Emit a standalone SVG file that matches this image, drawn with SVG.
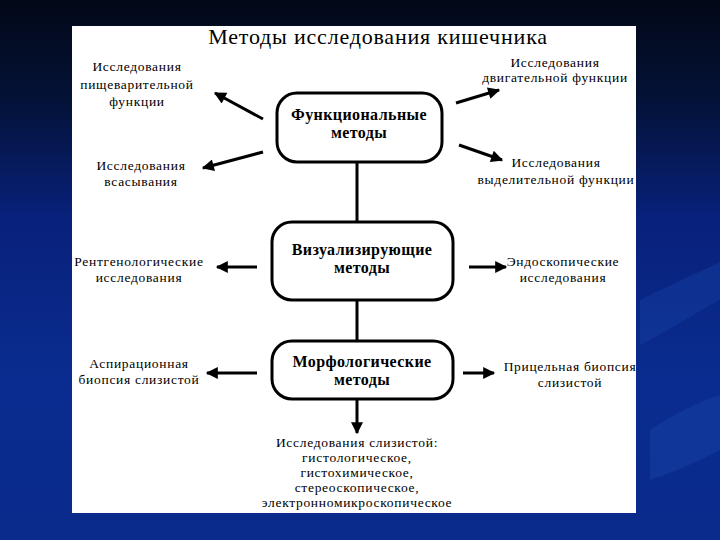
<svg xmlns="http://www.w3.org/2000/svg" width="720" height="540" viewBox="0 0 720 540">
<defs>
<linearGradient id="bg" x1="0" y1="0" x2="0" y2="1">
<stop offset="0" stop-color="#020817"/>
<stop offset="0.18" stop-color="#041236"/>
<stop offset="0.4" stop-color="#08217a"/>
<stop offset="0.7" stop-color="#0a2c90"/>
<stop offset="1" stop-color="#0a2a8c"/>
</linearGradient>
<marker id="ah" viewBox="0 0 10 10" refX="9" refY="5" markerWidth="5" markerHeight="4" markerUnits="strokeWidth" orient="auto">
<path d="M0,0 L10,5 L0,10 z" fill="#000"/>
</marker>
<style>
.node rect{fill:#fff;stroke:#000;stroke-width:3}
.nt{font-family:"Liberation Serif","DejaVu Serif",serif;font-weight:bold;font-size:16px;letter-spacing:0.4px;text-anchor:middle;fill:#000}
.lb{font-family:"Liberation Serif","DejaVu Serif",serif;font-size:13.5px;letter-spacing:0.7px;text-anchor:middle;fill:#000}
.title{font-family:"Liberation Serif","DejaVu Serif",serif;font-size:22px;letter-spacing:0.8px;text-anchor:middle;fill:#000}
.c line{stroke:#000;stroke-width:3;fill:none}
.c line.a{marker-end:url(#ah)}
</style>
</defs>
<rect width="720" height="540" fill="url(#bg)"/>
<path d="M640,300 C680,280 705,270 720,262 L720,300 C700,310 670,330 640,345 z" fill="#1a44a8" opacity="0.35"/>
<path d="M650,430 C680,410 705,400 720,395 L720,450 C700,460 680,470 650,480 z" fill="#1f4ab0" opacity="0.35"/>
<rect x="72" y="26" width="564" height="487" fill="#fff"/>
<text class="title" x="378" y="44">Методы исследования кишечника</text>

<g class="c" id="connectors">
<line x1="357" y1="162" x2="357" y2="221"/>
<line x1="357" y1="300" x2="357" y2="341"/>
<line class="a" x1="357" y1="399" x2="357" y2="433"/>
<line class="a" x1="263" y1="119" x2="215" y2="93"/>
<line class="a" x1="263" y1="152" x2="203" y2="168"/>
<line class="a" x1="456" y1="103" x2="499" y2="90"/>
<line class="a" x1="459" y1="145" x2="502" y2="160"/>
<line class="a" x1="257" y1="267" x2="217" y2="267"/>
<line class="a" x1="257" y1="373" x2="207" y2="373"/>
<line class="a" x1="469" y1="267" x2="506" y2="267"/>
<line class="a" x1="463" y1="373" x2="494" y2="373"/>
</g>

<g class="node" id="func">
<rect x="277" y="93" width="165" height="69" rx="20"/>
<text class="nt" x="359" y="120">Функциональные</text>
<text class="nt" x="359" y="138">методы</text>
</g>
<g class="node" id="vis">
<rect x="272" y="222" width="181" height="78" rx="20"/>
<text class="nt" x="362" y="255">Визуализирующие</text>
<text class="nt" x="362" y="273">методы</text>
</g>
<g class="node" id="morph">
<rect x="272" y="341" width="181" height="58" rx="20"/>
<text class="nt" x="362" y="367">Морфологические</text>
<text class="nt" x="362" y="385">методы</text>
</g>

<g id="l1"><text class="lb" x="137" y="71">Исследования</text><text class="lb" x="137" y="89">пищеварительной</text><text class="lb" x="137" y="106">функции</text></g>
<g id="l2"><text class="lb" x="141" y="170">Исследования</text><text class="lb" x="141" y="186">всасывания</text></g>
<g id="l3"><text class="lb" x="139" y="266">Рентгенологические</text><text class="lb" x="139" y="282">исследования</text></g>
<g id="l4"><text class="lb" x="139" y="368">Аспирационная</text><text class="lb" x="139" y="384">биопсия слизистой</text></g>
<g id="r1"><text class="lb" x="555" y="67">Исследования</text><text class="lb" x="555" y="82">двигательной функции</text></g>
<g id="r2"><text class="lb" x="556" y="167">Исследования</text><text class="lb" x="556" y="184">выделительной функции</text></g>
<g id="r3"><text class="lb" x="563" y="266">Эндоскопические</text><text class="lb" x="563" y="282">исследования</text></g>
<g id="r4"><text class="lb" x="570" y="371">Прицельная биопсия</text><text class="lb" x="570" y="387">слизистой</text></g>
<g id="bottom">
<text class="lb" x="357" y="447">Исследования слизистой:</text>
<text class="lb" x="357" y="462">гистологическое,</text>
<text class="lb" x="357" y="477">гистохимическое,</text>
<text class="lb" x="357" y="492">стереоскопическое,</text>
<text class="lb" x="357" y="507">электронномикроскопическое</text>
</g>
</svg>
